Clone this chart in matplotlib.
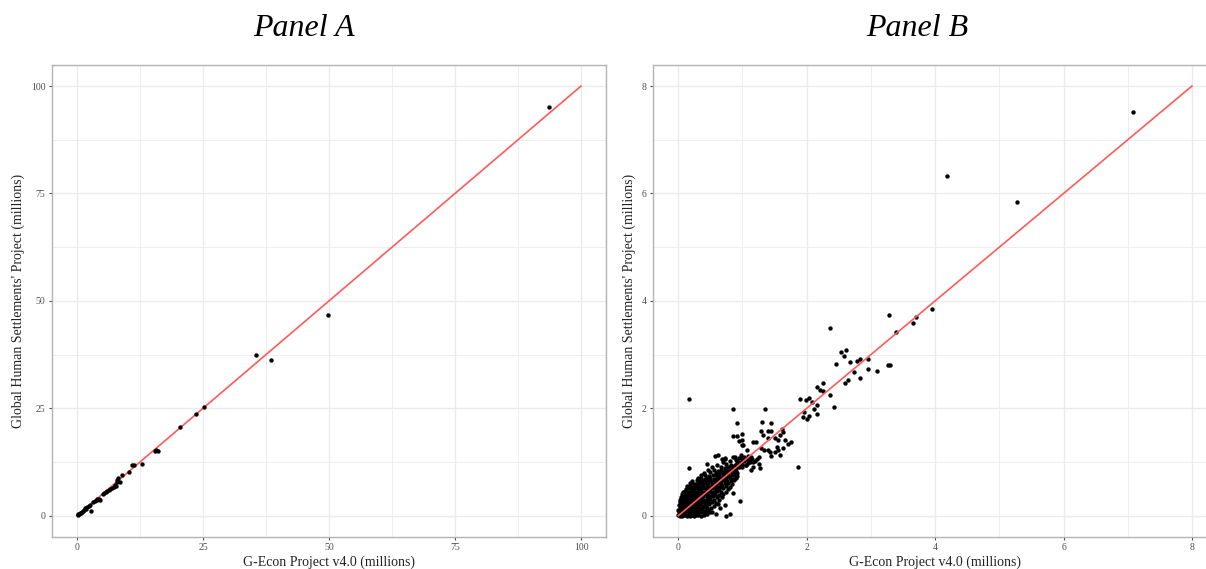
import matplotlib
matplotlib.use("Agg")
import matplotlib.pyplot as plt
from matplotlib.ticker import MultipleLocator

plt.rcParams['font.family'] = ['Liberation Serif', 'DejaVu Serif']

# ---------------- Data ----------------
titles = ["Panel A", "Panel B"]
x_label = "G-Econ Project v4.0 (millions)"
y_label = "Global Human Settlements' Project (millions)"

ticks_a = [0, 25, 50, 75, 100]
ticks_b = [0, 2, 4, 6, 8]

# Panel A: (G-Econ, GHS) in millions
panel_a_points = [
    (0.13, 0.16), (0.46, 0.47), (0.79, 0.71), (1.12, 1.02), (1.39, 1.33),
    (1.72, 1.56), (2.05, 1.95), (2.31, 2.34), (2.71, 1.17), (3.23, 3.12),
    (3.56, 3.43), (4.03, 3.66), (4.55, 3.74), (5.35, 5.21), (5.68, 5.52),
    (6.01, 5.76), (6.53, 6.15), (7.00, 6.38), (7.39, 6.61), (7.72, 6.92),
    (7.99, 8.32), (8.18, 8.71), (8.51, 7.93), (8.84, 9.49), (10.3, 10.26),
    (10.96, 11.9), (11.35, 11.74), (12.87, 12.05), (15.45, 15.16),
    (16.1, 15.08), (15.6, 15.3), (20.4, 20.68), (23.7, 23.7), (25.2, 25.34),
    (35.5, 37.46), (38.4, 36.3), (49.8, 46.7), (93.7, 95.2),
    (0.25, 0.35), (0.6, 0.55), (1.0, 0.9), (1.6, 1.7), (2.5, 2.6),
    (3.9, 3.8), (4.3, 3.9), (5.1, 5.0), (6.3, 6.0), (7.6, 7.2), (8.0, 7.9),
]

# Panel B: (G-Econ, GHS) in millions
panel_b_outliers = [
    (7.09, 7.52), (4.19, 6.32), (5.27, 5.84), (3.95, 3.84), (3.71, 3.70),
    (3.28, 3.74), (3.39, 3.43), (3.66, 3.58), (3.27, 2.80), (3.29, 2.81),
    (2.37, 3.49), (2.54, 3.04), (2.62, 3.09), (2.58, 2.97), (2.45, 2.83),
    (2.67, 2.87), (2.78, 2.89), (2.83, 2.92), (2.95, 2.92), (2.74, 2.67),
    (2.95, 2.73), (3.10, 2.70), (2.60, 2.48), (2.64, 2.53), (2.83, 2.56),
    (2.16, 2.40), (2.25, 2.48), (2.21, 2.34), (2.26, 2.32), (2.36, 2.24),
    (2.42, 2.02), (1.90, 2.18), (1.99, 2.15), (2.03, 2.19), (2.09, 2.12),
    (2.11, 1.98), (2.16, 2.06), (1.96, 1.94), (1.94, 1.83), (2.00, 1.80),
    (2.04, 1.86), (2.16, 1.89), (1.87, 0.91), (0.17, 2.18), (0.86, 1.98),
    (1.35, 1.98), (0.91, 1.72), (0.86, 1.49), (0.91, 1.49), (1.00, 1.52),
    (0.95, 1.40), (0.99, 1.41), (1.31, 1.74), (1.44, 1.73), (1.29, 1.57),
    (1.39, 1.58), (1.44, 1.57), (1.32, 1.51), (1.62, 1.61), (1.63, 1.55),
    (1.58, 1.50), (1.40, 1.44), (1.51, 1.45), (1.56, 1.41), (1.66, 1.41),
    (1.75, 1.38), (1.71, 1.33), (1.16, 1.37), (1.21, 1.38), (1.01, 1.32),
    (1.29, 1.26), (1.34, 1.22), (1.39, 1.23), (1.43, 1.19), (1.51, 1.19),
    (1.56, 1.22), (1.58, 1.13), (1.53, 1.28), (1.63, 1.27), (1.44, 1.11),
    (0.86, 1.10), (0.94, 1.07), (1.01, 1.04), (1.09, 1.05), (1.17, 1.00),
    (1.25, 0.96), (1.17, 0.91), (1.05, 0.94), (1.13, 0.85), (1.27, 0.88),
    (0.97, 0.93), (0.93, 1.00), (0.16, 0.88), (0.45, 0.96), (0.57, 1.11),
    (0.62, 1.13), (0.68, 1.05), (0.73, 1.07), (0.89, 1.09), (0.97, 1.13),
    (0.99, 1.32), (1.07, 1.22), (0.86, 0.42), (0.96, 0.27), (0.73, 0.20),
    (0.65, 0.14), (0.52, 0.07), (0.58, 0.03), (0.81, 0.03), (0.74, 0.00),
]

panel_b_cluster = [
    (0.00, 0.01), (0.02, 0.00), (0.04, 0.02), (0.06, 0.00), (0.08, 0.01),
    (0.10, 0.02), (0.13, 0.00), (0.16, 0.01), (0.19, 0.00), (0.22, 0.02),
    (0.25, 0.00), (0.28, 0.01), (0.31, 0.02), (0.35, 0.00), (0.40, 0.01),
    (0.45, 0.03),
    (0.01, 0.06), (0.03, 0.05), (0.05, 0.07), (0.08, 0.06), (0.11, 0.05),
    (0.14, 0.07), (0.17, 0.06), (0.20, 0.05), (0.24, 0.07), (0.27, 0.06),
    (0.30, 0.05), (0.34, 0.07), (0.38, 0.06), (0.43, 0.05), (0.49, 0.07),
    (0.00, 0.10), (0.03, 0.11), (0.06, 0.09), (0.09, 0.10), (0.12, 0.11),
    (0.15, 0.10), (0.18, 0.09), (0.22, 0.11), (0.25, 0.10), (0.29, 0.09),
    (0.33, 0.11), (0.37, 0.10), (0.42, 0.09), (0.47, 0.11),
    (0.02, 0.15), (0.05, 0.14), (0.08, 0.16), (0.11, 0.15), (0.14, 0.14),
    (0.17, 0.16), (0.21, 0.15), (0.24, 0.14), (0.28, 0.16), (0.31, 0.15),
    (0.35, 0.14), (0.40, 0.16), (0.45, 0.15), (0.51, 0.14),
    (0.01, 0.20), (0.04, 0.21), (0.07, 0.19), (0.10, 0.20), (0.13, 0.21),
    (0.16, 0.19), (0.20, 0.20), (0.23, 0.21), (0.27, 0.19), (0.30, 0.20),
    (0.34, 0.21), (0.38, 0.19), (0.43, 0.20), (0.48, 0.21), (0.55, 0.19),
    (0.62, 0.21),
    (0.03, 0.25), (0.06, 0.26), (0.09, 0.24), (0.12, 0.25), (0.15, 0.26),
    (0.19, 0.24), (0.22, 0.25), (0.26, 0.26), (0.29, 0.24), (0.33, 0.25),
    (0.37, 0.26), (0.41, 0.24), (0.46, 0.25), (0.52, 0.26), (0.58, 0.24),
    (0.02, 0.30), (0.05, 0.31), (0.08, 0.29), (0.11, 0.30), (0.14, 0.31),
    (0.18, 0.29), (0.21, 0.30), (0.25, 0.31), (0.28, 0.29), (0.32, 0.30),
    (0.36, 0.31), (0.40, 0.29), (0.45, 0.30), (0.50, 0.31), (0.56, 0.29),
    (0.63, 0.30),
    (0.04, 0.35), (0.07, 0.36), (0.10, 0.34), (0.13, 0.35), (0.17, 0.36),
    (0.20, 0.34), (0.24, 0.35), (0.27, 0.36), (0.31, 0.34), (0.35, 0.35),
    (0.39, 0.36), (0.44, 0.34), (0.49, 0.35), (0.54, 0.36), (0.60, 0.34),
    (0.68, 0.35),
    (0.06, 0.40), (0.09, 0.41), (0.12, 0.39), (0.16, 0.40), (0.19, 0.41),
    (0.23, 0.39), (0.26, 0.40), (0.30, 0.41), (0.34, 0.39), (0.38, 0.40),
    (0.43, 0.41), (0.47, 0.39), (0.52, 0.40), (0.57, 0.41), (0.63, 0.39),
    (0.70, 0.40),
    (0.08, 0.45), (0.11, 0.46), (0.15, 0.44), (0.18, 0.45), (0.22, 0.46),
    (0.25, 0.44), (0.29, 0.45), (0.33, 0.46), (0.37, 0.44), (0.41, 0.45),
    (0.46, 0.46), (0.51, 0.44), (0.56, 0.45), (0.61, 0.46), (0.67, 0.44),
    (0.74, 0.45),
    (0.12, 0.50), (0.17, 0.51), (0.21, 0.49), (0.24, 0.50), (0.28, 0.51),
    (0.32, 0.49), (0.36, 0.50), (0.40, 0.51), (0.45, 0.49), (0.49, 0.50),
    (0.54, 0.51), (0.59, 0.49), (0.64, 0.50), (0.70, 0.51), (0.77, 0.49),
    (0.14, 0.55), (0.19, 0.56), (0.23, 0.54), (0.27, 0.55), (0.31, 0.56),
    (0.35, 0.54), (0.39, 0.55), (0.44, 0.56), (0.48, 0.54), (0.53, 0.55),
    (0.58, 0.56), (0.63, 0.54), (0.68, 0.55), (0.74, 0.56), (0.80, 0.54),
    (0.18, 0.60), (0.22, 0.61), (0.26, 0.59), (0.30, 0.60), (0.34, 0.61),
    (0.38, 0.59), (0.43, 0.60), (0.47, 0.61), (0.52, 0.59), (0.57, 0.60),
    (0.62, 0.61), (0.67, 0.59), (0.72, 0.60), (0.78, 0.61), (0.84, 0.59),
    (0.22, 0.65), (0.29, 0.66), (0.33, 0.64), (0.37, 0.65), (0.42, 0.66),
    (0.46, 0.64), (0.51, 0.65), (0.56, 0.66), (0.61, 0.64), (0.66, 0.65),
    (0.71, 0.66), (0.76, 0.64), (0.82, 0.65), (0.87, 0.66),
    (0.30, 0.70), (0.36, 0.71), (0.41, 0.69), (0.45, 0.70), (0.50, 0.71),
    (0.55, 0.69), (0.60, 0.70), (0.65, 0.71), (0.70, 0.69), (0.75, 0.70),
    (0.80, 0.71), (0.85, 0.69), (0.90, 0.70),
    (0.35, 0.75), (0.42, 0.76), (0.48, 0.74), (0.54, 0.75), (0.59, 0.76),
    (0.64, 0.74), (0.69, 0.75), (0.74, 0.76), (0.79, 0.74), (0.84, 0.75),
    (0.88, 0.76), (0.92, 0.74),
    (0.40, 0.80), (0.50, 0.81), (0.58, 0.79), (0.63, 0.80), (0.68, 0.81),
    (0.73, 0.79), (0.78, 0.80), (0.83, 0.81), (0.87, 0.79), (0.91, 0.80),
    (0.47, 0.85), (0.55, 0.86), (0.62, 0.84), (0.67, 0.85), (0.72, 0.86),
    (0.77, 0.84), (0.82, 0.85), (0.86, 0.86), (0.90, 0.84),
    (0.52, 0.90), (0.66, 0.91), (0.72, 0.89), (0.78, 0.90), (0.84, 0.91),
    (0.90, 0.89), (0.95, 0.90), (1.00, 0.91),
    (0.60, 0.95), (0.75, 0.96), (0.82, 0.94), (0.88, 0.95), (0.94, 0.96),
    (0.99, 0.94), (1.05, 0.95),
    (0.70, 1.00), (0.80, 1.01), (0.92, 0.99), (0.97, 1.00), (1.03, 1.01),
    (1.08, 0.99), (1.12, 1.00), (1.20, 1.01),
    (0.73, 1.05), (0.90, 1.04), (1.00, 1.06), (1.06, 1.05), (1.10, 1.04),
    (1.15, 1.06), (1.22, 1.05), (1.02, 1.10), (1.08, 1.11), (1.14, 1.09),
    (1.25, 1.10),
]

# ---------------- Style ----------------
GRID = "#ebebeb"
FRAME = "#b3b3b3"
TICKC = "#4d4d4d"
LINEC = "#ff5a5a"

fig = plt.figure(figsize=(12.06, 5.69), dpi=100)
H = 569.0
W = 1206.0
bottom = 1 - 537.2 / H
height = (537.2 - 64.6) / H
ax_a = fig.add_axes([51.8 / W, bottom, (606.2 - 51.8) / W, height])
ax_b = fig.add_axes([652.6 / W, bottom, (1217.6 - 652.6) / W, height])


def style(ax, lim, ticks, minor):
    ax.set_xlim(-0.05 * lim, 1.05 * lim)
    ax.set_ylim(-0.05 * lim, 1.05 * lim)
    ax.set_xticks(ticks)
    ax.set_yticks(ticks)
    ax.xaxis.set_minor_locator(MultipleLocator(minor))
    ax.yaxis.set_minor_locator(MultipleLocator(minor))
    ax.grid(True, which="major", color=GRID, lw=1.0, zorder=0)
    ax.grid(True, which="minor", color=GRID, lw=0.6, zorder=0)
    ax.set_axisbelow(True)
    for s in ax.spines.values():
        s.set_color(FRAME)
        s.set_linewidth(1.0)
    ax.tick_params(which="major", length=2.5, width=0.8, color=TICKC,
                   labelcolor=TICKC, labelsize=7, pad=2)
    ax.tick_params(which="minor", length=0)
    ax.set_xlabel(x_label, fontsize=10, color="#222222", labelpad=2)
    ax.set_ylabel(y_label, fontsize=10, color="#222222", labelpad=4)


# Panel A
ax_a.plot([ticks_a[0], ticks_a[-1]], [ticks_a[0], ticks_a[-1]], color=LINEC, lw=1.2, zorder=2)
ax_a.scatter([p[0] for p in panel_a_points], [p[1] for p in panel_a_points],
             s=10, color="black", linewidths=0, zorder=3)
style(ax_a, 100, ticks_a, 12.5)

# Panel B
pts_b = panel_b_cluster + panel_b_outliers
ax_b.scatter([p[0] for p in pts_b], [p[1] for p in pts_b],
             s=10, color="black", linewidths=0, zorder=2)
ax_b.plot([ticks_b[0], ticks_b[-1]], [ticks_b[0], ticks_b[-1]], color=LINEC, lw=1.2, zorder=3)
style(ax_b, 8, ticks_b, 1)

fig.text(304 / W, 1 - 28 / H, titles[0], fontsize=23, style="italic",
         ha="center", va="center")
fig.text(917 / W, 1 - 28 / H, titles[1], fontsize=23, style="italic",
         ha="center", va="center")

fig.savefig("out.png", dpi=100)
